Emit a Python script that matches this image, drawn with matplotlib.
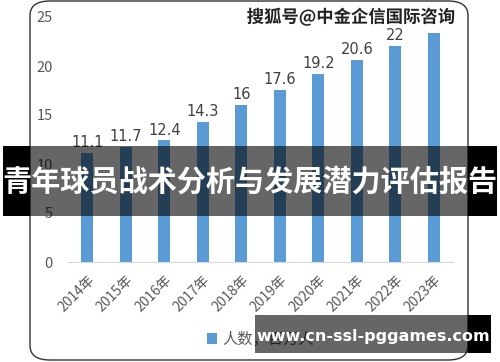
import matplotlib
matplotlib.use("Agg")
from matplotlib import pyplot as plt
from matplotlib.patches import FancyBboxPatch, Rectangle
import matplotlib.patheffects as pe

plt.rcParams['font.family'] = ['Noto Sans CJK SC', 'DejaVu Sans']

years = ['2014年', '2015年', '2016年', '2017年', '2018年',
         '2019年', '2020年', '2021年', '2022年', '2023年']
values = [11.1, 11.7, 12.4, 14.3, 16, 17.6, 19.2, 20.6, 22, 23.4]
yticks = [0, 5, 10, 15, 20, 25]
series_name = '人数，百万人'
title = '青年球员战术分析与发展潜力评估报告'
watermark = '搜狐号@中金企信国际咨询'
site = 'www.cn-ssl-pggames.com'

W, H = 500, 362
fig = plt.figure(figsize=(W / 100, H / 100), dpi=100)

def fx(x):
    return x / W

def fy(y):
    return 1 - y / H

# rounded chart frame
frame = FancyBboxPatch((fx(30), fy(360)), fx(438), (360 - 1) / H,
                       boxstyle="round,pad=0,rounding_size=0.04",
                       transform=fig.transFigure, fc='white', ec='#333333',
                       lw=1.0, zorder=-5)
fig.patches.append(frame)

ax = fig.add_axes([fx(68), fy(262), fx(453 - 68), (262 - 17) / H])
ax.set_zorder(1)
ax.set_facecolor('none')
bars = ax.bar(range(len(years)), values, width=0.31, color='#5B9BD5', zorder=2)
for i, v in enumerate(values):
    ax.text(i, v + 0.3, f'{v:g}', ha='center', va='bottom', fontsize=10.5,
            color='#404040', family=['DejaVu Sans'])

ax.set_xlim(-0.5, 9.5)
ax.set_ylim(0, 25)
ax.set_yticks(yticks)
ax.set_xticks(range(len(years)))
ax.set_xticklabels(years, rotation=45, ha='right', rotation_mode='anchor',
                   fontsize=10, color='#595959')
ax.tick_params(axis='y', length=0, pad=11, labelsize=10.5, labelcolor='#595959')
ax.tick_params(axis='x', length=0, pad=8)
for s in ['top', 'right', 'left']:
    ax.spines[s].set_visible(False)
ax.spines['bottom'].set_color('#D9D9D9')

fig.legend([bars], [series_name], loc='center left',
           bbox_to_anchor=(fx(193), fy(339)), frameon=False, fontsize=11,
           handlelength=0.7, handleheight=0.7, handletextpad=0.3,
           labelcolor='#595959')

# overlay layer above the chart
over = fig.add_axes([0, 0, 1, 1])
over.set_zorder(10)
over.set_xlim(0, W)
over.set_ylim(H, 0)
over.axis('off')

# watermark top right
over.text(351, 17, watermark, ha='center', va='center', fontsize=12.5,
          fontweight='bold', color='#222222',
          bbox=dict(fc='white', ec='none', pad=1.0),
          path_effects=[pe.withStroke(linewidth=2, foreground='white')])

# title banner
over.add_patch(Rectangle((3, 146), 494, 70, fc='black', alpha=0.6, ec='none'))
for x0, x1 in [(3, 30), (468, 497)]:
    over.add_patch(Rectangle((x0, 146), x1 - x0, 70, fc='black', ec='none'))
over.text(250, 182, title, ha='center', va='center', fontsize=21,
          fontweight='bold', color='white')

# bottom site banner
over.add_patch(Rectangle((255, 315), 236, 38, fc='black', alpha=0.6, ec='none'))
over.add_patch(Rectangle((468, 315), 23, 38, fc='black', ec='none'))
over.text(373, 336, site, ha='center', va='center', fontsize=11.5,
          fontweight='bold', color='white', family=['DejaVu Sans'])

fig.savefig('out.png', dpi=100)
